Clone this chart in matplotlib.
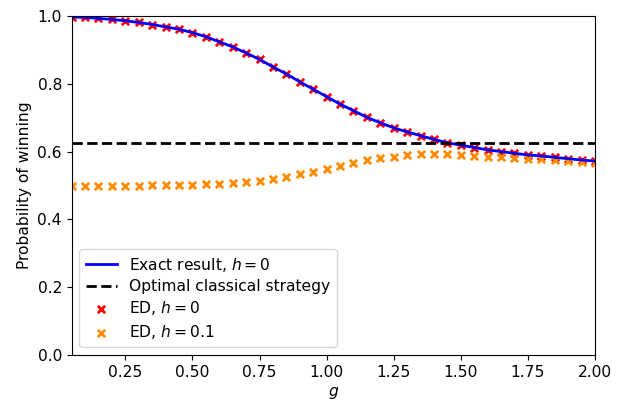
import numpy as np
import matplotlib
matplotlib.use("Agg")
from matplotlib import pyplot as plt

plt.rcParams["font.size"] = 11.2

# coupling values
g = np.round(np.arange(0.05, 2.0001, 0.05), 2)

# exact result / ED, h = 0
p_exact = [0.997, 0.996, 0.993, 0.990, 0.986, 0.981, 0.975, 0.968, 0.961, 0.951,
           0.939, 0.924, 0.909, 0.891, 0.872, 0.850, 0.829, 0.806, 0.784, 0.762,
           0.740, 0.721, 0.701, 0.685, 0.670, 0.658, 0.647, 0.636, 0.626, 0.619,
           0.612, 0.605, 0.600, 0.595, 0.590, 0.587, 0.583, 0.579, 0.575, 0.572]
p_ed_h0 = p_exact

# ED, h = 0.1
p_ed_h01 = [0.499, 0.499, 0.499, 0.499, 0.499, 0.499, 0.500, 0.500, 0.501, 0.5015,
            0.503, 0.505, 0.506, 0.509, 0.513, 0.518, 0.524, 0.533, 0.540, 0.549,
            0.558, 0.567, 0.575, 0.580, 0.585, 0.589, 0.592, 0.593, 0.592, 0.590,
            0.588, 0.585, 0.583, 0.581, 0.579, 0.577, 0.574, 0.572, 0.570, 0.567]

p_classical = 0.625

fig = plt.figure(figsize=(6.23, 4.01), dpi=100)
ax = fig.add_axes([0.115, 0.115, 0.840, 0.845])

ax.plot(g, p_exact, color="blue", lw=2, label="Exact result, $h=0$")
ax.axhline(p_classical, color="black", ls="--", lw=2, label="Optimal classical strategy")
ax.scatter(g, p_ed_h0, marker="x", color="red", s=28, linewidths=2, label="ED, $h=0$")
ax.scatter(g, p_ed_h01, marker="x", color="darkorange", s=28, linewidths=2, label="ED, $h=0.1$")

ax.set_xlim(0.05, 2.0)
ax.set_ylim(0.0, 1.0)
ax.set_xticks([0.25, 0.5, 0.75, 1.0, 1.25, 1.5, 1.75, 2.0])
ax.set_yticks([0.0, 0.2, 0.4, 0.6, 0.8, 1.0])
ax.set_xlabel("$g$")
ax.set_ylabel("Probability of winning")
ax.legend(loc="lower left", labelspacing=0.35)

fig.savefig("out.png", dpi=100)
